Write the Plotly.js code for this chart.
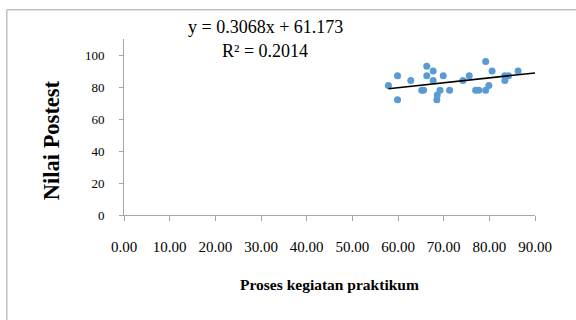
<!DOCTYPE html>
<html>
<head>
<meta charset="utf-8">
<script src="https://cdn.plot.ly/plotly-3.0.1.min.js"></script>
<style>html,body{margin:0;padding:0;background:#fff;}#chart{width:576px;height:320px;}</style>
</head>
<body>
<div id="chart"></div>
<script>
// Data
const prosesPraktikum = [57.9, 59.9, 59.9, 62.8, 65.2, 65.6, 66.3, 66.3, 67.7, 67.7, 69.2, 68.6, 68.5, 69.9, 71.3, 74.2, 75.6, 79.2, 80.6, 77.0, 77.7, 79.2, 79.9, 83.4, 84.2, 83.4, 86.3];
const nilaiPostest   = [81, 87, 72, 84, 78, 78, 93, 87, 90, 84, 78, 75, 72, 87, 78, 84, 87, 96, 90, 78, 78, 78, 81, 87, 87, 84, 90];
const trendSlope = 0.3068;
const trendIntercept = 61.173;
const trendXStart = 57.9;
const trendXEnd = 90;
const xTickVals = [0, 10, 20, 30, 40, 50, 60, 70, 80, 90];
const yTickVals = [0, 20, 40, 60, 80, 100];
const equationText = "y = 0.3068x + 61.173";
const r2Text = "R² = 0.2014";
const xTitle = "Proses kegiatan praktikum";
const yTitle = "Nilai Postest";

const trendX = [trendXStart, trendXEnd];
const trendY = trendX.map(v => trendSlope * v + trendIntercept);

const serif = "Liberation Serif";
const axisColor = "#a6a6a6";

const data = [
  {
    x: prosesPraktikum, y: nilaiPostest, type: "scatter", mode: "markers",
    marker: {color: "#5b9bd5", size: 7}, hoverinfo: "none", cliponaxis: false
  },
  {
    x: trendX, y: trendY, type: "scatter", mode: "lines",
    line: {color: "#000000", width: 1.5}, hoverinfo: "none"
  }
];

const layout = {
  width: 576, height: 320,
  margin: {l: 124, r: 41.3, t: 38.7, b: 105.3, pad: 0},
  paper_bgcolor: "#ffffff", plot_bgcolor: "#ffffff",
  showlegend: false,
  font: {family: serif, color: "#000"},
  xaxis: {
    range: [0, 90], tickvals: xTickVals, tickformat: ".2f",
    showgrid: false, zeroline: false, showline: true, linecolor: axisColor, linewidth: 1,
    ticks: "outside", ticklen: 5, tickcolor: axisColor, tickwidth: 1,
    ticklabelstandoff: 13,
    tickfont: {family: serif, size: 15, color: "#000"}, fixedrange: true
  },
  yaxis: {
    range: [0, 110], tickvals: yTickVals,
    showgrid: false, zeroline: false, showline: true, linecolor: axisColor, linewidth: 1,
    ticks: "outside", ticklen: 4, tickcolor: axisColor, tickwidth: 1,
    ticklabelstandoff: 12,
    tickfont: {family: serif, size: 13, color: "#000"}, fixedrange: true
  },
  shapes: [
    {type: "rect", xref: "paper", yref: "paper", x0: -0.285, x1: 1.3, y0: -0.8, y1: 1.166,
     line: {color: "#a0a0a0", width: 1}, fillcolor: "rgba(0,0,0,0)", layer: "below"}
  ],
  annotations: [
    {text: equationText, xref: "paper", yref: "paper", x: (265 - 124) / 410.7, y: (214.7 - 27) / 176,
     showarrow: false, xanchor: "center", yanchor: "middle", font: {family: serif, size: 18, color: "#000"}},
    {text: r2Text, xref: "paper", yref: "paper", x: (265 - 124) / 410.7, y: (214.7 - 51) / 176,
     showarrow: false, xanchor: "center", yanchor: "middle", font: {family: serif, size: 18, color: "#000"}},
    {text: "<b>" + xTitle + "</b>", xref: "paper", yref: "paper", x: 0.5, y: (214.7 - 284) / 176,
     showarrow: false, xanchor: "center", yanchor: "middle", font: {family: serif, size: 15.5, color: "#000"}},
    {text: "<b>" + yTitle + "</b>", xref: "paper", yref: "paper", x: (51 - 124) / 410.7, y: (214.7 - 140) / 176,
     textangle: -90, showarrow: false, xanchor: "center", yanchor: "middle", font: {family: serif, size: 22.5, color: "#000"}}
  ]
};

Plotly.newPlot("chart", data, layout, {staticPlot: true, displayModeBar: false});
</script>
</body>
</html>
